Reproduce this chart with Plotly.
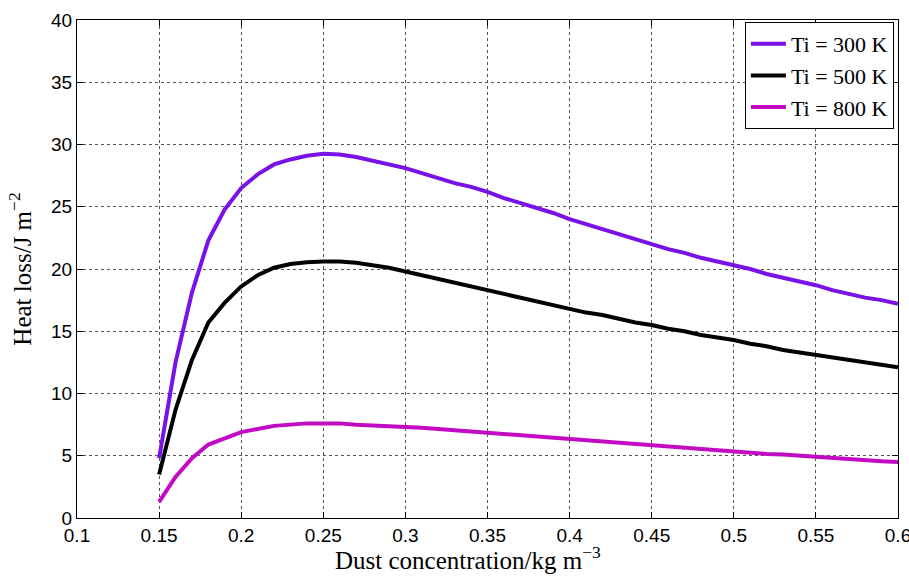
import plotly.graph_objects as go

x = [round(0.15 + 0.01 * i, 2) for i in range(46)]

ti300 = [4.8, 12.5, 18.1, 22.3, 24.8, 26.5, 27.6, 28.4, 28.8, 29.1,
         29.25, 29.2, 29.0, 28.7, 28.4, 28.1, 27.7, 27.3, 26.9, 26.6,
         26.2, 25.7, 25.3, 24.9, 24.5, 24.0, 23.6, 23.2, 22.8, 22.4,
         22.0, 21.6, 21.3, 20.9, 20.6, 20.3, 20.0, 19.6, 19.3, 19.0,
         18.7, 18.3, 18.0, 17.7, 17.5, 17.2]
ti500 = [3.5, 8.7, 12.7, 15.7, 17.3, 18.6, 19.5, 20.1, 20.4, 20.55,
         20.6, 20.6, 20.5, 20.3, 20.1, 19.8, 19.5, 19.2, 18.9, 18.6,
         18.3, 18.0, 17.7, 17.4, 17.1, 16.8, 16.5, 16.3, 16.0, 15.7,
         15.5, 15.2, 15.0, 14.7, 14.5, 14.3, 14.0, 13.8, 13.5, 13.3,
         13.1, 12.9, 12.7, 12.5, 12.3, 12.1]
ti800 = [1.3, 3.3, 4.8, 5.9, 6.4, 6.9, 7.15, 7.4, 7.5, 7.6,
         7.6, 7.6, 7.5, 7.45, 7.4, 7.3, 7.25, 7.15, 7.05, 6.95,
         6.8, 6.7, 6.6, 6.5, 6.4, 6.3, 6.2, 6.1, 6.0, 5.9,
         5.8, 5.7, 5.6, 5.5, 5.4, 5.3, 5.25, 5.15, 5.1, 5.0,
         4.9, 4.8, 4.75, 4.65, 4.55, 4.5]

names = ["Ti = 300 K", "Ti = 500 K", "Ti = 800 K"]
colors = ["#7812e6", "#000000", "#c20ac2"]
series = [ti300, ti500, ti800]

xticks = [0.1, 0.15, 0.2, 0.25, 0.3, 0.35, 0.4, 0.45, 0.5, 0.55, 0.6]
xticklabels = ["0.1", "0.15", "0.2", "0.25", "0.3", "0.35", "0.4", "0.45", "0.5", "0.55", "0.6"]
yticks = [0, 5, 10, 15, 20, 25, 30, 35, 40]

x_title = "Dust concentration/kg m<sup>\u22123</sup>"
y_title = "Heat loss/J m<sup>\u22122</sup>"

fig = go.Figure()
for n, c, s in zip(names, colors, series):
    fig.add_trace(go.Scatter(x=x, y=s, mode="lines", name=n,
                             line=dict(color=c, width=4)))

axis_common = dict(
    showline=True, linecolor="black", linewidth=1.2, mirror="ticks",
    ticks="inside", ticklen=6, tickcolor="black",
    showgrid=True, gridcolor="#555555", griddash="dot", gridwidth=1,
    zeroline=False, automargin=False, ticklabeloverflow="allow",
    tickfont=dict(family="Liberation Sans, Arial", size=19, color="black"),
)

serif = "Liberation Serif, Times New Roman"
fig.update_xaxes(range=[0.1, 0.6], tickvals=xticks, ticktext=xticklabels,
                 **axis_common)
fig.update_yaxes(range=[0, 40], tickvals=yticks,
                 title=dict(text=y_title,
                            font=dict(family=serif, size=25, color="black"),
                            standoff=12),
                 **axis_common)

fig.add_annotation(text=x_title, xref="paper", yref="paper",
                   x=0.476, y=-0.117, xanchor="center", yanchor="bottom",
                   showarrow=False,
                   font=dict(family=serif, size=25, color="black"))

fig.update_layout(
    width=909, height=577,
    margin=dict(l=77, r=11, t=20, b=59, autoexpand=False),
    paper_bgcolor="white", plot_bgcolor="white",
    showlegend=True,
    legend=dict(x=0.995, y=0.996, xanchor="right", yanchor="top",
                bgcolor="white", bordercolor="black", borderwidth=1,
                font=dict(family=serif, size=22, color="black"),
                itemwidth=35),
)

fig.write_html("out.html")
